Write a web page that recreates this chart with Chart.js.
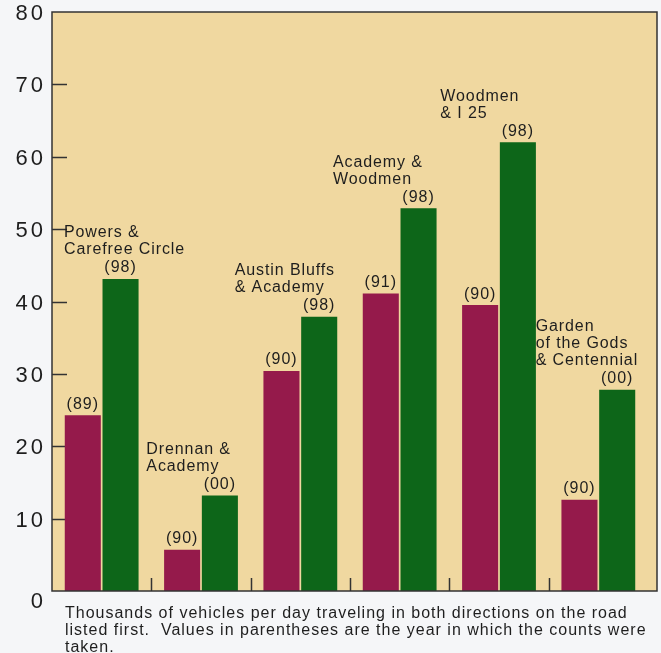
<!DOCTYPE html>
<html>
<head>
<meta charset="utf-8">
<script src="https://cdn.jsdelivr.net/npm/chart.js@4.4.1/dist/chart.umd.min.js"></script>
<style>
  body { margin: 0; background: #f5f6f8; }
  #wrap { position: relative; width: 661px; height: 653px; }
  #caption {
    position: absolute; left: 65px; top: 604px;
    font: 16px "Liberation Sans", Arial, sans-serif;
    letter-spacing: 1px; line-height: 17px; color: #1e1e1e;
    white-space: nowrap;
  }
</style>
</head>
<body>
<div id="wrap">
  <canvas id="chart" width="661" height="653"></canvas>
  <div id="caption">Thousands of vehicles per day traveling in both directions on the road<br>listed first.&nbsp; Values in parentheses are the year in which the counts were<br>taken.</div>
</div>
<script>
'use strict';

// data (thousands of vehicles per day)
var places = [
    ['Powers &', 'Carefree Circle'],
    ['Drennan &', 'Academy'],
    ['Austin Bluffs', '& Academy'],
    ['Academy &', 'Woodmen'],
    ['Woodmen', '& I 25'],
    ['Garden', 'of the Gods', '& Centennial']
];
var earlyCounts = [24.3, 5.7, 30.4, 41.1, 39.5, 12.6];
var lateCounts = [43.1, 13.2, 37.9, 52.9, 62.0, 27.8];
var earlyYears = ['(89)', '(90)', '(90)', '(91)', '(90)', '(90)'];
var lateYears = ['(98)', '(00)', '(98)', '(98)', '(98)', '(00)'];
var yTicks = [0, 10, 20, 30, 40, 50, 60, 70, 80];

// layout bits, not data
var labelShift = [12, -5, -16, -17, -9, -13];
var FONT = '"Liberation Sans", Arial, sans-serif';

var framePlugin = {
    id: 'frame',
    beforeDatasetsDraw: chart => {
        var ctx = chart.ctx, a = chart.chartArea;
        var x = chart.scales.x, y = chart.scales.y;
        ctx.save();
        ctx.fillStyle = '#f0d8a0';
        ctx.fillRect(a.left, a.top, a.right + 9 - a.left, a.bottom - a.top);
        ctx.strokeStyle = '#333';
        ctx.lineWidth = 1.5;
        ctx.beginPath();
        yTicks.slice(1, -1).forEach(v => {
            var py = Math.round(y.getPixelForValue(v)) + 0.5;
            ctx.moveTo(a.left, py);
            ctx.lineTo(a.left + 15, py);
        });
        for (var i = 1; i < places.length; i++) {
            var px = Math.round((x.getPixelForValue(i - 1) + x.getPixelForValue(i)) / 2) + 0.5;
            ctx.moveTo(px, a.bottom);
            ctx.lineTo(px, a.bottom - 13);
        }
        ctx.stroke();

        // y tick labels, drawn by hand for the wide lettering
        ctx.fillStyle = '#1e1e1e';
        ctx.font = '22px ' + FONT;
        ctx.letterSpacing = '3px';
        ctx.textAlign = 'right';
        ctx.textBaseline = 'middle';
        yTicks.forEach(v => {
            var dy = v === 0 ? 11 : 2;
            ctx.fillText(String(v), a.left - 6, y.getPixelForValue(v) + dy);
        });
        ctx.restore();
    },
    afterDatasetsDraw: chart => {
        var ctx = chart.ctx, a = chart.chartArea;
        var x = chart.scales.x;
        var m0 = chart.getDatasetMeta(0), m1 = chart.getDatasetMeta(1);
        ctx.save();
        ctx.strokeStyle = '#333';
        ctx.lineWidth = 1.5;
        ctx.strokeRect(a.left, a.top, a.right + 9 - a.left, a.bottom - a.top);
        ctx.fillStyle = '#1e1e1e';
        ctx.font = '16px ' + FONT;
        ctx.letterSpacing = '1px';
        ctx.textBaseline = 'middle';
        ctx.textAlign = 'center';
        places.forEach((lines, i) => {
            var b0 = m0.data[i], b1 = m1.data[i];
            ctx.fillText(earlyYears[i], b0.x, b0.y - 11);
            ctx.fillText(lateYears[i], b1.x, b1.y - 11);
        });
        ctx.letterSpacing = '0.9px';
        ctx.textAlign = 'left';
        places.forEach((lines, i) => {
            var b0 = m0.data[i], b1 = m1.data[i];
            var top = Math.min(b0.y, b1.y) - 11;
            var half = (x.getPixelForValue(1) - x.getPixelForValue(0)) / 2;
            var lx = x.getPixelForValue(i) - half + labelShift[i];
            lines.forEach((t, k) => {
                ctx.fillText(t, lx, top - 18 - (lines.length - 1 - k) * 17);
            });
        });
        ctx.restore();
    }
};

var chart = new Chart(document.getElementById('chart'), {
    type: 'bar',
    data: {
        labels: places.map(p => p.join(' ')),
        datasets: [{
            data: earlyCounts,
            backgroundColor: '#951a4b'
        }, {
            data: lateCounts,
            backgroundColor: '#0d6619'
        }]
    },
    options: {
        responsive: false,
        animation: false,
        events: [],
        categoryPercentage: 0.76,
        barPercentage: 0.955,
        layout: { padding: { top: 12, bottom: 62, right: 13, left: 0 } },
        plugins: { legend: { display: false }, tooltip: { enabled: false } },
        scales: {
            x: { display: false },
            y: {
                min: 0, max: 80,
                afterFit: s => { s.width = 52; },
                afterBuildTicks: s => { s.ticks = yTicks.map(v => ({ value: v })); },
                grid: { display: false, drawTicks: false },
                border: { display: false },
                ticks: { display: false }
            }
        }
    },
    plugins: [framePlugin]
});
</script>
</body>
</html>
